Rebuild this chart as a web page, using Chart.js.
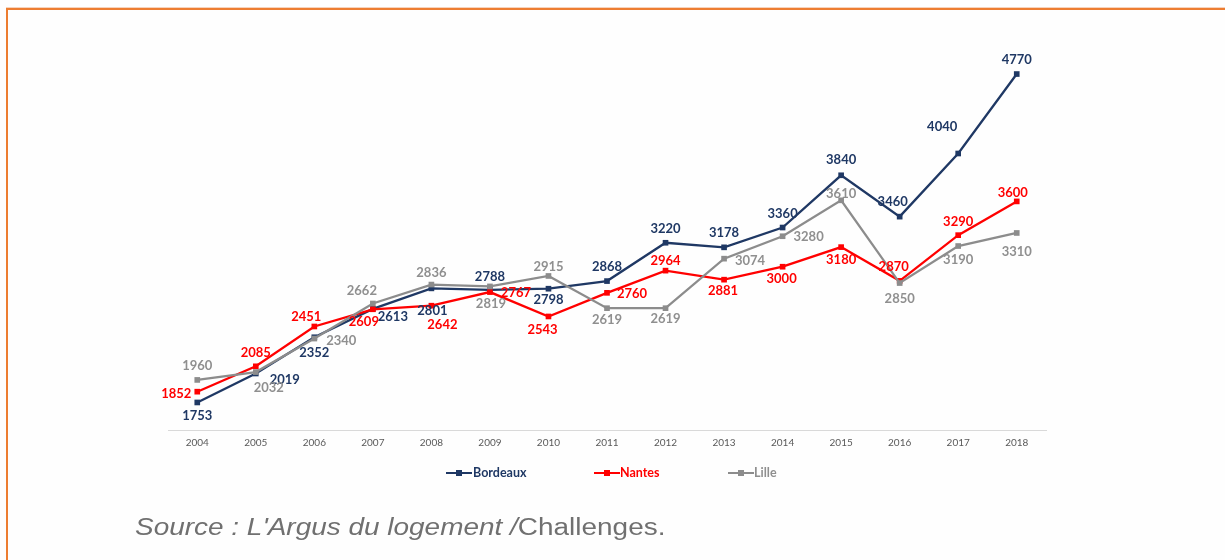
<!DOCTYPE html>
<html>
<head>
<meta charset="utf-8">
<script src="https://cdn.jsdelivr.net/npm/chart.js@4.4.1/dist/chart.umd.min.js"></script>
<style>
  html, body { margin: 0; padding: 0; background: #fefefe; }
  #wrap { position: relative; width: 1225px; height: 560px; overflow: hidden; background: #fefefe; }
  #c { position: absolute; left: 0; top: 0; }
  .frameTop { position: absolute; left: 6px; top: 8px; width: 1219px; height: 2px; background: #ED7D31; }
  .frameTopLight { position: absolute; left: 6px; top: 7px; width: 1219px; height: 1px; background: #F6D3BC; }
  .frameLeft { position: absolute; left: 6px; top: 8px; width: 2px; height: 552px; background: #ED7D31; }
  .legItem { position: absolute; top: 465px; height: 16px; font: bold 12.5px Lato, sans-serif; line-height: 16px; white-space: nowrap; }
  .legLine { position: absolute; top: 7px; height: 2px; }
  .legSq { position: absolute; top: 5px; width: 6px; height: 6px; }
  .legText { position: absolute; top: 0; }
  #source { position: absolute; left: 135px; top: 514px; font: 23px "Liberation Sans", Arial, sans-serif; color: #707070; white-space: nowrap; transform: scaleX(1.215); transform-origin: left center; }
</style>
</head>
<body>
<div id="wrap">
  <canvas id="c" width="1225" height="560"></canvas>
  <div class="frameTopLight"></div>
  <div class="frameTop"></div>
  <div class="frameLeft"></div>
  <div id="legend"></div>
  <div id="source"><i>Source : L'Argus du logement /</i>Challenges.</div>
</div>
<script>
// ---- data ----
const years = ["2004","2005","2006","2007","2008","2009","2010","2011","2012","2013","2014","2015","2016","2017","2018"];
const bordeaux = [1753, 2019, 2352, 2613, 2801, 2788, 2798, 2868, 3220, 3178, 3360, 3840, 3460, 4040, 4770];
const nantes   = [1852, 2085, 2451, 2609, 2642, 2767, 2543, 2760, 2964, 2881, 3000, 3180, 2870, 3290, 3600];
const lille    = [1960, 2032, 2340, 2662, 2836, 2819, 2915, 2619, 2619, 3074, 3280, 3610, 2850, 3190, 3310];
const seriesNames = ["Bordeaux", "Nantes", "Lille"];

// ---- styling ----
const colors = ["#1F3864", "#FF0000", "#8C8C8C"];
const labelColors = ["#1F3864", "#FF0000", "#8F8F8F"];
// label offsets (dx, dy) from each point, in pixels
const labelOffsets = [
  [[0,13],[29,6],[0,16],[20,8],[1,22],[0,-13],[0,11],[0,-14],[0,-14],[0,-15],[0,-14],[0,-15],[-7,-15],[-16,-27],[0,-14]],
  [[-21,2],[0,-14],[-8,-10],[-9,13],[11,19],[26,1],[-6,13],[25,1],[0,-10],[-1,11],[-1,12],[0,13],[-6,-14],[0,-13],[-4,-9]],
  [[0,-14],[13,16],[27,2],[-11,-13],[0,-12],[1,17],[0,-9],[0,12],[0,11],[26,2],[26,1],[0,-6],[0,16],[0,14],[0,19]]
];

const labelPlugin = {
  id: 'pointLabels',
  afterDatasetsDraw(chart) {
    const ctx = chart.ctx;
    ctx.save();
    ctx.font = 'bold 13px Lato, sans-serif';
    ctx.textAlign = 'center';
    ctx.textBaseline = 'middle';
    chart.data.datasets.forEach((ds, di) => {
      const meta = chart.getDatasetMeta(di);
      ctx.fillStyle = labelColors[di];
      meta.data.forEach((pt, i) => {
        const off = labelOffsets[di][i];
        ctx.fillText(String(ds.data[i]), pt.x + off[0], pt.y + off[1]);
      });
    });
    ctx.restore();
  }
};

const allSeries = [bordeaux, nantes, lille];
new Chart(document.getElementById('c'), {
  type: 'line',
  data: {
    labels: years,
    datasets: allSeries.map((d, i) => ({
      label: seriesNames[i],
      data: d,
      borderColor: colors[i],
      backgroundColor: colors[i],
      borderWidth: 2.3,
      pointStyle: 'rect',
      pointRadius: 4,
      pointBorderWidth: 0,
      tension: 0,
      order: 2 - i
    }))
  },
  options: {
    responsive: false,
    animation: false,
    layout: { padding: { left: 168, right: 179, top: 49, bottom: 104 } },
    plugins: { legend: { display: false }, tooltip: { enabled: false } },
    scales: {
      x: {
        offset: true,
        grid: { display: false, drawTicks: false },
        border: { display: true, color: '#D9D9D9', width: 1 },
        ticks: { color: '#595959', font: { family: 'Lato', size: 10 }, padding: 7, maxRotation: 0 }
      },
      y: { display: false, min: 1500, max: 5000 }
    }
  },
  plugins: [labelPlugin]
});

// ---- legend ----
const legPos = [[446, 473], [594, 620], [728, 754]];
const leg = document.getElementById('legend');
seriesNames.forEach((n, i) => {
  const item = document.createElement('div');
  item.className = 'legItem';
  item.style.left = legPos[i][0] + 'px';
  const line = document.createElement('div');
  line.className = 'legLine';
  line.style.left = '0px'; line.style.width = '26px'; line.style.background = colors[i];
  const sq = document.createElement('div');
  sq.className = 'legSq';
  sq.style.left = '10px'; sq.style.background = colors[i];
  const t = document.createElement('div');
  t.className = 'legText';
  t.style.left = (legPos[i][1] - legPos[i][0]) + 'px';
  t.style.color = labelColors[i];
  t.textContent = n;
  item.appendChild(line); item.appendChild(sq); item.appendChild(t);
  leg.appendChild(item);
});
</script>
</body>
</html>
